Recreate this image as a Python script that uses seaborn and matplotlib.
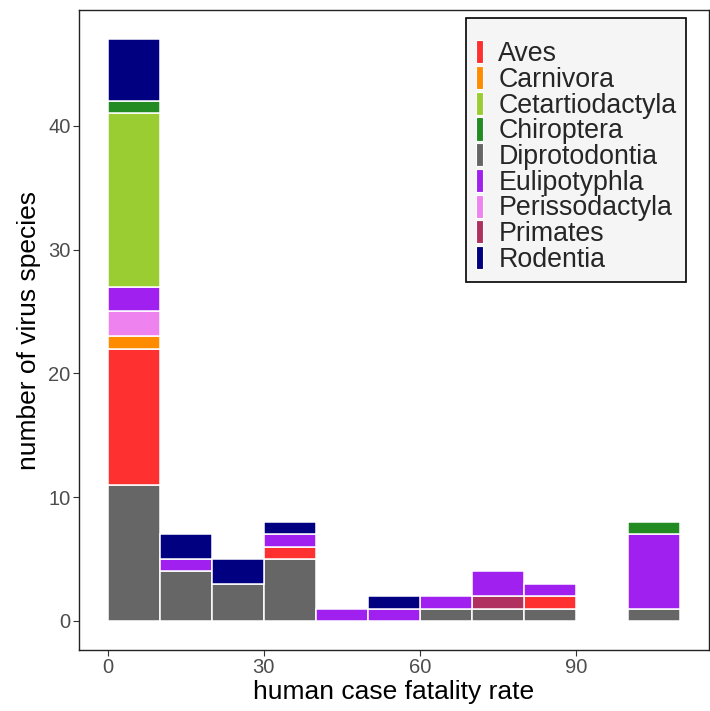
import numpy as np
import pandas as pd
import matplotlib
matplotlib.use("Agg")
import matplotlib.pyplot as plt
from matplotlib.patches import Patch
import seaborn as sns

# lower edges of the 10-point fatality-rate bins
bin_starts = [0, 10, 20, 30, 40, 50, 60, 70, 80, 90, 100]

# number of virus species per bin, by host order
aves            = [11, 0, 0, 1, 0, 0, 0, 0, 1, 0, 0]
carnivora       = [1, 0, 0, 0, 0, 0, 0, 0, 0, 0, 0]
cetartiodactyla = [14, 0, 0, 0, 0, 0, 0, 0, 0, 0, 0]
chiroptera      = [1, 0, 0, 0, 0, 0, 0, 0, 0, 0, 1]
diprotodontia   = [11, 4, 3, 5, 0, 0, 1, 1, 1, 0, 1]
eulipotyphla    = [2, 1, 0, 1, 1, 1, 1, 2, 1, 0, 6]
perissodactyla  = [2, 0, 0, 0, 0, 0, 0, 0, 0, 0, 0]
primates        = [0, 0, 0, 0, 0, 0, 0, 1, 0, 0, 0]
rodentia        = [5, 2, 2, 1, 0, 1, 0, 0, 0, 0, 0]

orders = ["Aves", "Carnivora", "Cetartiodactyla", "Chiroptera", "Diprotodontia",
          "Eulipotyphla", "Perissodactyla", "Primates", "Rodentia"]
counts = [aves, carnivora, cetartiodactyla, chiroptera, diprotodontia,
          eulipotyphla, perissodactyla, primates, rodentia]
colors = ["#FF3030", "#FF8C00", "#9ACD32", "#228B22", "#666666",
          "#A020F0", "#EE82EE", "#B03060", "#000080"]
palette = dict(zip(orders, colors))

# stacking order, top of each bar first
stack_order = ["Rodentia", "Chiroptera", "Cetartiodactyla", "Eulipotyphla",
               "Perissodactyla", "Carnivora", "Primates", "Aves", "Diprotodontia"]

rows = []
for name, vals in zip(orders, counts):
    for start, n in zip(bin_starts, vals):
        if n > 0:
            rows.append({"cfr": start + 5.0, "n": float(n), "order": name})
df = pd.DataFrame(rows)

sns.set_style("white")
plt.rcParams["font.family"] = ["Liberation Sans", "DejaVu Sans"]

fig = plt.figure(figsize=(7.1, 7.11), dpi=100)
ax = fig.add_axes([0.1113, 0.0858, 0.887, 0.9001])

sns.histplot(data=df, x="cfr", weights="n", hue="order", hue_order=stack_order,
             palette=palette, multiple="stack", binwidth=10, binrange=(0, 110),
             alpha=1, edgecolor="white", linewidth=1.1, legend=False, ax=ax)

# drop empty bars so their outlines don't show
for p in list(ax.patches):
    if p.get_height() == 0:
        p.remove()

ax.set_xlim(-5.5, 115.5)
ax.set_ylim(-2.35, 49.35)
ax.set_xticks([0, 30, 60, 90])
ax.set_yticks([0, 10, 20, 30, 40])
ax.tick_params(axis="both", which="major", length=4, width=0.8, color="#333333",
               labelsize=14.5, labelcolor="#4D4D4D", pad=2, bottom=True, left=True)
for s in ax.spines.values():
    s.set_color("#222222")
    s.set_linewidth(1.0)
ax.grid(False)

ax.set_xlabel("human case fatality rate", fontsize=19, color="black", labelpad=2)
ax.set_ylabel("number of virus species", fontsize=19, color="black", labelpad=5)

handles = [Patch(facecolor=palette[o], edgecolor="white", linewidth=0.8) for o in orders]
leg = ax.legend(handles, orders, loc="upper right", bbox_to_anchor=(0.9635, 0.9875),
                fontsize=19.3, frameon=True, fancybox=False, framealpha=1,
                title=" ", title_fontsize=10,
                handlelength=0.27, handleheight=0.95, handletextpad=0.58,
                labelspacing=-0.04, borderpad=0.35, borderaxespad=0)
leg.get_frame().set_facecolor("#F5F5F5")
leg.get_frame().set_edgecolor("black")
leg.get_frame().set_linewidth(1.2)

fig.savefig("out.png", dpi=100)
